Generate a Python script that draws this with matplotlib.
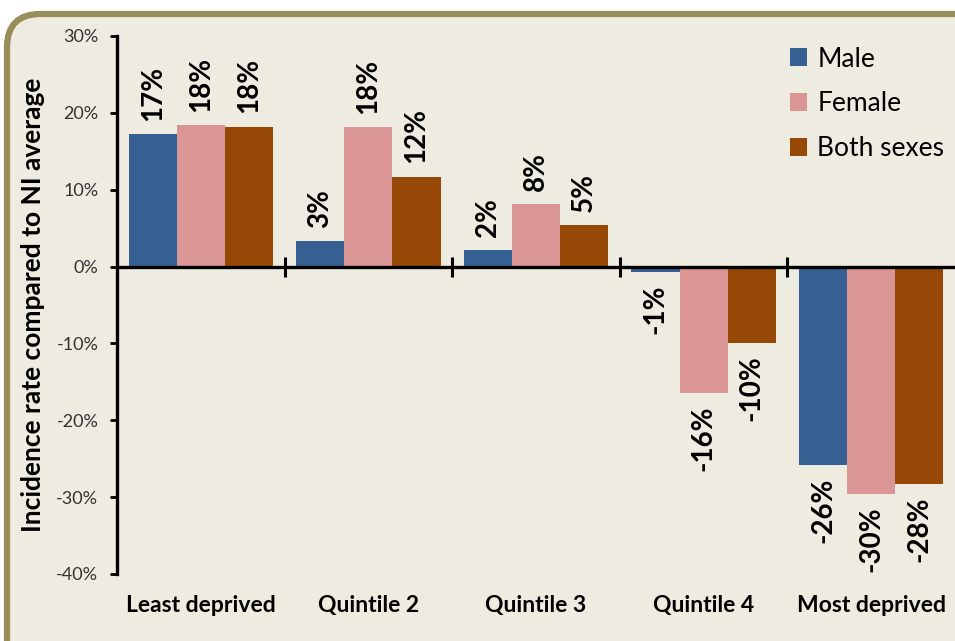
import numpy as np
import matplotlib
matplotlib.use("Agg")
import matplotlib.pyplot as plt
from matplotlib.patches import FancyBboxPatch

plt.rcParams['font.family'] = ['Lato', 'DejaVu Sans']

categories = ["Least deprived", "Quintile 2", "Quintile 3", "Quintile 4", "Most deprived"]
male = [17.2, 3.3, 2.1, -0.7, -25.8]
female = [18.4, 18.1, 8.1, -16.4, -29.6]
both = [18.2, 11.7, 5.4, -9.9, -28.3]
labels_male = ["17%", "3%", "2%", "-1%", "-26%"]
labels_female = ["18%", "18%", "8%", "-16%", "-30%"]
labels_both = ["18%", "12%", "5%", "-10%", "-28%"]
series_names = ["Male", "Female", "Both sexes"]
colors = ["#366092", "#DA9694", "#974706"]

W, H = 955, 641
fig = plt.figure(figsize=(W / 100, H / 100), dpi=100)
fig.patch.set_facecolor("white")

# rounded frame, cut at the right and bottom like the screenshot
frame = FancyBboxPatch((7 / W, -40 / H), (W + 40) / W, (H + 40 - 14) / H,
                       boxstyle="round,pad=0,rounding_size=0.035",
                       transform=fig.transFigure, facecolor="#EEEBE0",
                       edgecolor="#998D5B", linewidth=4.5, zorder=-5,
                       mutation_aspect=W / H)
fig.patches.append(frame)

ax = fig.add_axes([117 / W, 1 - 574 / H, (W - 117) / W, (574 - 36) / H])
ax.set_facecolor("none")
ax.set_zorder(2)

x = np.arange(len(categories))
bw = 0.287
series = [male, female, both]
lbls = [labels_male, labels_female, labels_both]
for i, (vals, lab) in enumerate(zip(series, lbls)):
    pos = x + (i - 1) * bw
    ax.bar(pos, vals, width=bw, color=colors[i], label=series_names[i], zorder=2)
    for p, v, t in zip(pos, vals, lab):
        if v >= 0:
            ax.annotate(t, (p, v), xytext=(0, 9.5), textcoords="offset points",
                        rotation=90, ha="center", va="bottom",
                        fontsize=20, fontweight="bold")
        else:
            ax.annotate(t, (p, v), xytext=(0, -9), textcoords="offset points",
                        rotation=90, ha="center", va="top",
                        fontsize=20, fontweight="bold")

ax.axhline(0, color="black", linewidth=2.4, zorder=3)

ax.set_xlim(-0.5, 4.5)
ax.set_ylim(-40, 30)
ax.set_yticks(np.arange(-40, 31, 10))
ax.set_yticklabels([f"{v}%" for v in range(-40, 31, 10)])
ax.tick_params(axis="y", direction="out", length=5, width=2, labelsize=13,
               labelcolor="#333333", pad=8.5)
ax.set_xticks(x)
ax.set_xticklabels(categories, fontsize=16.5, fontweight="bold")
ax.tick_params(axis="x", length=0, pad=15)

for s in ["top", "right", "bottom"]:
    ax.spines[s].set_visible(False)
ax.spines["left"].set_linewidth(2.4)

# group separators on the zero line
sec = ax.secondary_xaxis(4 / 7)
for s in sec.spines.values():
    s.set_visible(False)
sec.set_xticks(x[:-1] + 0.5)
sec.set_xticklabels([])
sec.tick_params(direction="inout", length=14, width=2.2)

ax.set_ylabel("Incidence rate compared to NI average", fontsize=19,
              fontweight="bold", labelpad=8)

ax.legend(loc="upper right", bbox_to_anchor=(1.0, 1.0), frameon=False,
          fontsize=19, handlelength=0.65, handleheight=0.65, handletextpad=0.4,
          labelspacing=0.75, borderaxespad=0.0)

fig.savefig("out.png", dpi=100)
